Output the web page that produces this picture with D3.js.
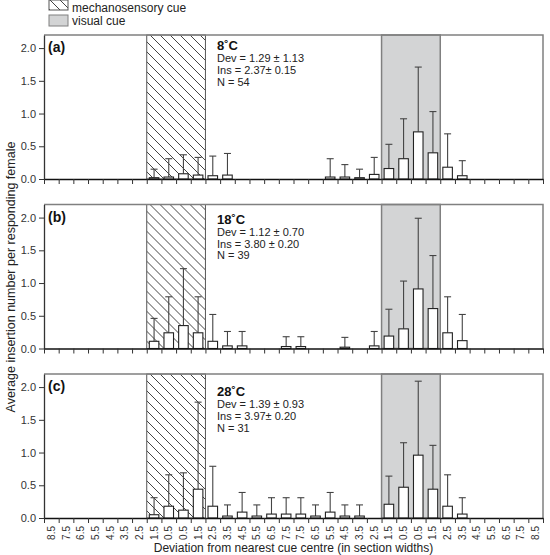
<!DOCTYPE html>
<html>
<head>
<meta charset="utf-8">
<script src="https://cdnjs.cloudflare.com/ajax/libs/d3/7.8.5/d3.min.js"></script>
<style>
  body { margin: 0; background: #fff; }
  svg { display: block; font-family: "Liberation Sans", Arial, sans-serif; }
</style>
</head>
<body>
<div id="chart"></div>
<script>
// section labels along the arena (distance from nearest cue centre)
const sections = ['8.5','7.5','6.5','5.5','4.5','3.5','2.5','1.5','0.5','0.5','1.5','2.5','3.5','4.5','5.5','6.5','7.5',
                  '7.5','6.5','5.5','4.5','3.5','2.5','1.5','0.5','0.5','1.5','2.5','3.5','4.5','5.5','6.5','7.5','8.5']

// cue positions, as [first section, last section]
const mechanoCue = [7, 10]
const visualCue = [23, 26]

const yTicks = [0, 0.5, 1.0, 1.5, 2.0]

// mean insertions (null = no bar) and upper error (SD)
const mean8 = [null,null,null,null,null,null,null, 0.02,0.03,0.08,0.06,0.05,0.06,
               null,null,null,null,null,null, 0.03,0.03,0.02,0.07,0.16,0.31,0.72,0.40,0.18,0.05,
               null,null,null,null,null]
const err8  = [null,null,null,null,null,null,null, 0.13,0.28,0.29,0.27,0.30,0.33,
               null,null,null,null,null,null, 0.28,0.19,0.13,0.26,0.37,0.61,0.99,0.63,0.51,0.23,
               null,null,null,null,null]

const mean18 = [null,null,null,null,null,null,null, 0.11,0.24,0.35,0.24,0.11,0.04,0.04,
                null,null, 0.03,0.03, null,null, 0.02, null, 0.04,0.19,0.30,0.91,0.61,0.24,0.12,
                null,null,null,null,null]
const err18  = [null,null,null,null,null,null,null, 0.35,0.55,0.87,0.55,0.41,0.22,0.22,
                null,null, 0.15,0.15, null,null, 0.15, null, 0.22,0.41,0.73,1.08,0.81,0.55,0.40,
                null,null,null,null,null]

const mean28 = [null,null,null,null,null,null,null, 0.05,0.18,0.12,0.44,0.18,0.03,0.09,0.03,0.06,0.06,0.06,0.03,0.09,0.03,0.03,
                null, 0.21,0.47,0.96,0.44,0.18,0.06,
                null,null,null,null,null]
const err28  = [null,null,null,null,null,null,null, 0.26,0.48,0.57,1.33,0.61,0.17,0.30,0.17,0.25,0.25,0.25,0.17,0.30,0.17,0.17,
                null, 0.43,0.68,1.13,0.67,0.48,0.25,
                null,null,null,null,null]

const panelLetters = ['(a)', '(b)', '(c)']
const temps = ['8˚C', '18˚C', '28˚C']
const statLines = [
  ['Dev = 1.29 ± 1.13', 'Ins = 2.37± 0.15', 'N = 54'],
  ['Dev = 1.12 ± 0.70', 'Ins = 3.80 ± 0.20', 'N = 39'],
  ['Dev = 1.39 ± 0.93', 'Ins = 3.97± 0.20', 'N = 31']
]
const means = [mean8, mean18, mean28]
const errs = [err8, err18, err28]

const W = 550, H = 555
const left = 44, right = 543
const panelTops = [35, 204.5, 374]
const panelH = 144

const svg = d3.select('#chart').append('svg')
  .attr('width', W)
  .attr('height', H)

// hatch pattern for the mechanosensory cue
const defs = svg.append('defs')
const pat = defs.append('pattern')
  .attr('id', 'hatch')
  .attr('patternUnits', 'userSpaceOnUse')
  .attr('width', 10)
  .attr('height', 10)
pat.append('rect').attr('width', 10).attr('height', 10).attr('fill', '#fff')
pat.append('path')
  .attr('d', 'M-2,-2 L12,12 M-2,8 L2,12 M8,-2 L12,2')
  .attr('stroke', '#444')
  .attr('stroke-width', 1)

const xBand = d3.scaleBand()
  .domain(d3.range(sections.length))
  .range([left, right])
  .paddingInner(0.35)
  .paddingOuter(0.175)

const xEdge = d3.scaleLinear()
  .domain([0, sections.length])
  .range([left, right])

means.forEach((meanArr, p) => {
  const top = panelTops[p]
  const g = svg.append('g').attr('transform', 'translate(0,' + top + ')')

  const y = d3.scaleLinear()
    .domain([0, 2.2])
    .range([panelH, 0])

  // cue zones
  g.append('rect')
    .attr('x', xEdge(mechanoCue[0]))
    .attr('width', xEdge(mechanoCue[1] + 1) - xEdge(mechanoCue[0]))
    .attr('y', 0)
    .attr('height', panelH)
    .attr('fill', 'url(#hatch)')
    .attr('stroke', '#555')
    .attr('stroke-width', 1)

  g.append('rect')
    .attr('x', xEdge(visualCue[0]))
    .attr('width', xEdge(visualCue[1] + 1) - xEdge(visualCue[0]))
    .attr('y', 0)
    .attr('height', panelH)
    .attr('fill', '#d3d4d5')
    .attr('stroke', '#808080')
    .attr('stroke-width', 1.5)

  // frame (top + right in grey)
  g.append('path')
    .attr('d', 'M' + left + ',0 H' + right + ' V' + panelH)
    .attr('fill', 'none')
    .attr('stroke', '#808080')
    .attr('stroke-width', 1.5)

  const rows = meanArr.map((m, i) => ({ i: i, m: m, e: errs[p][i] }))
    .filter(d => d.m !== null)

  // error bars (upper only)
  const eb = g.append('g')
    .attr('stroke', '#444')
    .attr('stroke-width', 1.1)
  eb.selectAll('line.v')
    .data(rows)
    .join('line')
    .attr('class', 'v')
    .attr('x1', d => xBand(d.i) + xBand.bandwidth() / 2)
    .attr('x2', d => xBand(d.i) + xBand.bandwidth() / 2)
    .attr('y1', d => y(d.m))
    .attr('y2', d => y(d.m + d.e))
  eb.selectAll('line.cap')
    .data(rows)
    .join('line')
    .attr('class', 'cap')
    .attr('x1', d => xBand(d.i) + xBand.bandwidth() / 2 - 3.5)
    .attr('x2', d => xBand(d.i) + xBand.bandwidth() / 2 + 3.5)
    .attr('y1', d => y(d.m + d.e))
    .attr('y2', d => y(d.m + d.e))

  g.selectAll('rect.bar')
    .data(rows)
    .join('rect')
    .attr('class', 'bar')
    .attr('x', d => xBand(d.i))
    .attr('width', xBand.bandwidth())
    .attr('y', d => y(d.m))
    .attr('height', d => panelH - y(d.m))
    .attr('fill', '#fff')
    .attr('stroke', '#222')
    .attr('stroke-width', 1.1)

  // y axis
  const yAxis = d3.axisLeft(y)
    .tickValues(yTicks)
    .tickFormat(d3.format('.1f'))
    .tickSize(5)
    .tickSizeOuter(0)
  const ya = g.append('g')
    .attr('class', 'axis y-axis')
    .attr('transform', 'translate(' + left + ',0)')
    .call(yAxis)
  ya.select('.domain').attr('stroke', '#333').attr('stroke-width', 1.3)
  ya.selectAll('.tick line').attr('stroke', '#333')
  ya.selectAll('text').attr('font-size', 11).attr('fill', '#333')
    .attr('font-family', '"Liberation Sans", Arial, sans-serif')

  // x axis ticks on section boundaries
  const xa = g.append('g')
    .attr('class', 'axis x-axis')
    .attr('transform', 'translate(0,' + panelH + ')')
    .call(d3.axisBottom(xEdge).tickValues(d3.range(sections.length + 1)).tickFormat('').tickSize(5).tickSizeOuter(0))
  xa.select('.domain').attr('stroke', '#111').attr('stroke-width', 1.5)
  xa.selectAll('.tick line').attr('stroke', '#333')

  if (p === 2) {
    const xl = g.append('g')
      .attr('transform', 'translate(0,' + panelH + ')')
      .call(d3.axisBottom(xBand).tickFormat(i => sections[i]).tickSize(0))
    xl.select('.domain').remove()
    xl.selectAll('text')
      .attr('transform', 'rotate(-90)')
      .attr('text-anchor', 'end')
      .attr('x', -8)
      .attr('y', 0)
      .attr('dy', '0.35em')
      .attr('font-size', 10)
      .attr('fill', '#333')
      .attr('font-family', '"Liberation Sans", Arial, sans-serif')
  }

  // panel letter and stats
  g.append('text')
    .attr('x', 48)
    .attr('y', 17)
    .attr('font-size', 14)
    .attr('font-weight', 'bold')
    .attr('fill', '#111')
    .text(panelLetters[p])

  const baseOff = [15, 19, 22][p]
  g.append('text')
    .attr('x', 217)
    .attr('y', baseOff)
    .attr('font-size', 13)
    .attr('font-weight', 'bold')
    .attr('fill', '#111')
    .text(temps[p])

  g.selectAll('text.stat')
    .data(statLines[p])
    .join('text')
    .attr('class', 'stat')
    .attr('x', 217)
    .attr('y', (d, k) => baseOff + 12.3 + k * 11.7)
    .attr('font-size', 11)
    .attr('fill', '#222')
    .text(d => d)
})

// legend
svg.append('rect')
  .attr('x', 49).attr('y', 0).attr('width', 19).attr('height', 10)
  .attr('fill', 'url(#hatch)').attr('stroke', '#555')
svg.append('rect')
  .attr('x', 49).attr('y', 15).attr('width', 19).attr('height', 11)
  .attr('fill', '#d3d4d5').attr('stroke', '#808080')
svg.append('text')
  .attr('x', 72).attr('y', 11.5)
  .attr('font-size', 12).attr('fill', '#222')
  .text('mechanosensory cue')
svg.append('text')
  .attr('x', 72).attr('y', 25)
  .attr('font-size', 12).attr('fill', '#222')
  .text('visual cue')

// axis titles
svg.append('text')
  .attr('transform', 'translate(15,' + 277 + ') rotate(-90)')
  .attr('text-anchor', 'middle')
  .attr('font-size', 12.5)
  .attr('fill', '#222')
  .text('Average insertion number per responding female')

// the reference crops this title at the bottom edge; lifted just enough to fit
svg.append('text')
  .attr('x', (left + right) / 2)
  .attr('y', 551.5)
  .attr('text-anchor', 'middle')
  .attr('font-size', 12)
  .attr('fill', '#222')
  .text('Deviation from nearest cue centre (in section widths)')
</script>
</body>
</html>
